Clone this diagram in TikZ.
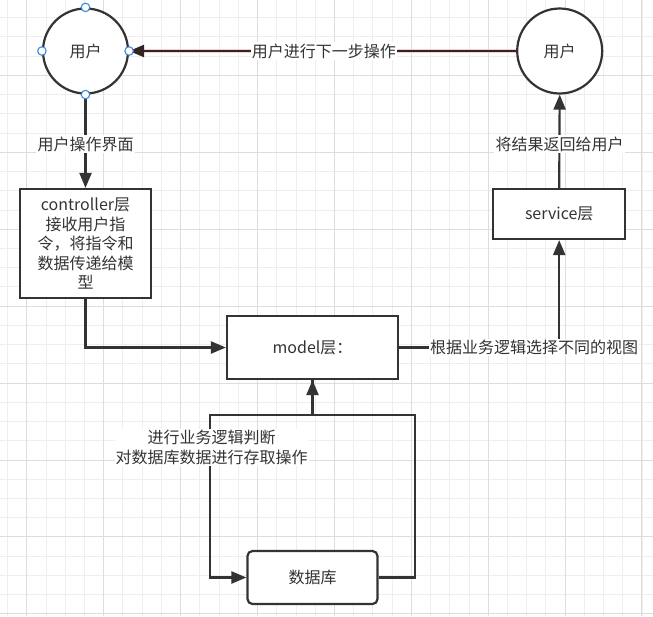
\documentclass[tikz,border=0pt]{standalone}
\usepackage{fontspec}
\setmainfont{Noto Sans CJK SC}
\usetikzlibrary{arrows.meta}
\definecolor{ink}{HTML}{333333}
\definecolor{minorg}{HTML}{EEEEEE}
\definecolor{majorg}{HTML}{DDDDDD}
\definecolor{handle}{HTML}{3D8BD9}
\definecolor{edgered}{HTML}{332424}
\definecolor{halo}{HTML}{F2D2D2}
\tikzset{
  box/.style={draw=ink, line width=2.2pt, fill=white, text=ink, align=center, inner sep=0pt},
  usernode/.style={circle, draw=ink, line width=2.2pt, fill=white, text=ink, minimum size=85pt, inner sep=0pt},
  conn/.style={draw=ink, line width=2.2pt, -{Triangle[length=15pt,width=12pt]}},
  lbl/.style={fill=white, text=ink, inner sep=1.2pt, align=center},
  hdl/.style={circle, draw=handle, fill=white, line width=1.1pt, minimum size=8.5pt, inner sep=0pt},
}
\begin{document}
\begin{tikzpicture}[x=1pt,y=-1pt, font=\fontsize{16}{19.5}\selectfont]
\useasboundingbox[fill=white] (0,0) rectangle (653,616);
% grid
\foreach \i in {0,...,33} \draw[minorg, line width=0.9pt] ({7.5+19.23*\i},0) -- ({7.5+19.23*\i},616);
\foreach \i in {0,...,31} \draw[minorg, line width=0.9pt] (0,{17.7+19.23*\i}) -- (653,{17.7+19.23*\i});
\foreach \i in {0,...,8} \draw[majorg, line width=0.9pt] ({26.7+76.9*\i},0) -- ({26.7+76.9*\i},616);
\foreach \i in {0,...,7} \draw[majorg, line width=0.9pt] (0,{75.5+76.9*\i}) -- (653,{75.5+76.9*\i});

% nodes
\node[usernode] (u1) at (85.5,51) {用户};
\node[usernode] (u2) at (559.7,51) {用户};
\node[box, minimum width=131pt, minimum height=109pt] (ctrl) at (85.5,243.5)
  {controller层\\接收用户指\\令，将指令和\\数据传递给模\\型};
\node[box, minimum width=171pt, minimum height=63pt] (model) at (312.5,347.5) {model层：};
\node[box, minimum width=132pt, minimum height=50pt] (service) at (559.2,214) {service层};
\node[box, rounded corners=5pt, minimum width=130pt, minimum height=53pt] (db) at (312.5,577.5) {数据库};

\coordinate (r) at (415,415);
\coordinate (l) at (210,415);

% edges
\draw[halo, line width=4.6pt] (u2.west) -- ([xshift=15pt]u1.east);
\draw[conn, draw=edgered] (u2.west) -- (u1.east);
\node[lbl] (t1) at (323.8,51) {用户进行下一步操作};

\draw[conn] (u1.south) -- (ctrl.north);
\node[lbl] (t2) at (85.5,144) {用户操作界面};

\draw[conn] (ctrl.south) |- (model.west);

\draw[conn] (model.east) -| (service.south);
\node[lbl] (t3) at (534,347.5) {根据业务逻辑选择不同的视图};

\draw[conn] (service.north) -- (u2.south);
\node[lbl] (t4) at (559.5,144) {将结果返回给用户};

\draw[conn] (db.east) -| (r) -| (model.south);
\draw[conn] (model.south) |- (l) |- (db.west);
\node[lbl] (t5) at (211.7,447.5) {进行业务逻辑判断\\对数据库数据进行存取操作};

% selection handles
\node[hdl] (h1) at (u1.north) {};
\node[hdl] (h2) at (u1.west) {};
\node[hdl] (h3) at (u1.east) {};
\node[hdl] (h4) at (u1.south) {};
\end{tikzpicture}
\end{document}
